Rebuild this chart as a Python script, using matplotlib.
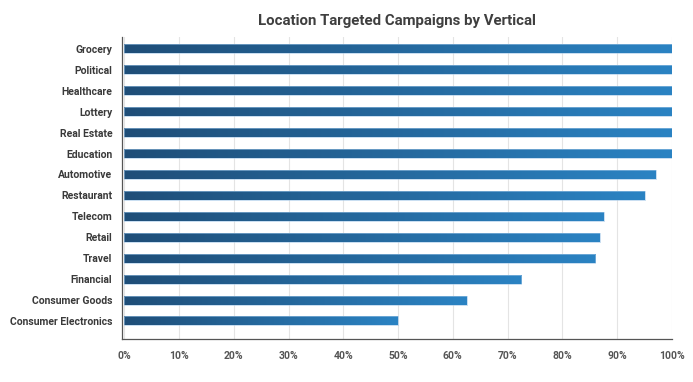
import numpy as np
import matplotlib
matplotlib.use("Agg")
import matplotlib.pyplot as plt
from matplotlib.colors import LinearSegmentedColormap
from matplotlib.ticker import FuncFormatter

verticals = ["Grocery", "Political", "Healthcare", "Lottery", "Real Estate",
             "Education", "Automotive", "Restaurant", "Telecom", "Retail",
             "Travel", "Financial", "Consumer Goods", "Consumer Electronics"]
pct = [100, 100, 100, 100, 100, 100, 97, 95, 87.6, 86.8, 86.0, 72.5, 62.5, 50]

plt.rcParams['font.family'] = ['Roboto', 'DejaVu Sans']

fig = plt.figure(figsize=(6.93, 3.82), dpi=100)
ax = fig.add_axes([0.176, 0.1126, 0.7937, 0.7906])

cmap = LinearSegmentedColormap.from_list("bar", ["#1f4e78", "#2b83c3"])
grad = np.linspace(0, 1, 256).reshape(1, -1)
bh = 0.43

for i, v in enumerate(pct):
    ax.imshow(grad, cmap=cmap, aspect='auto', extent=(0, v, i + bh / 2, i - bh / 2),
              zorder=3, interpolation='bilinear')
    ax.add_patch(plt.Rectangle((0, i - bh / 2), v, bh, fill=False,
                               edgecolor="#9ec5e6", lw=0.4, zorder=4))

ax.set_xlim(-0.4, 100)
ax.set_ylim(13.86, -0.57)
ax.set_yticks(range(len(verticals)))
ax.set_yticklabels(verticals, fontsize=7.5, fontweight='bold', color='#3a3a3a')
ax.set_xticks(np.arange(0, 101, 10))
ax.xaxis.set_major_formatter(FuncFormatter(lambda x, p: f"{int(x)}%"))
for t in ax.get_xticklabels():
    t.set_fontsize(7.5)
    t.set_fontweight('bold')
    t.set_color('#555555')
ax.tick_params(axis='both', length=0)
ax.tick_params(axis='x', pad=9)
ax.tick_params(axis='y', pad=7)
ax.grid(axis='x', color='#e4e4e4', lw=0.8, zorder=0)
ax.set_axisbelow(True)
for s in ['top', 'right']:
    ax.spines[s].set_visible(False)
for s in ['left', 'bottom']:
    ax.spines[s].set_color('#555555')
    ax.spines[s].set_linewidth(0.9)

fig.text(0.573, 0.945, "Location Targeted Campaigns by Vertical", ha='center', va='center',
         fontsize=10.8, fontweight='bold', color='#3f3f3f')

fig.savefig("out.png", dpi=100)
